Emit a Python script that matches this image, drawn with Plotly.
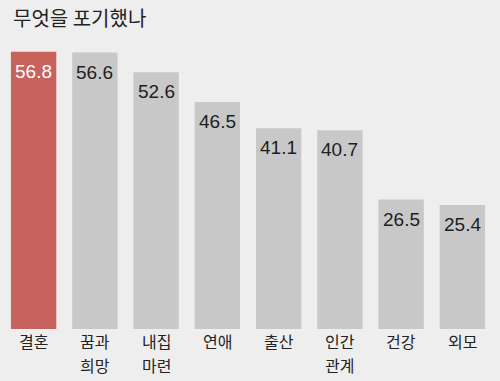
import plotly.graph_objects as go

categories = ["결혼", "꿈과<br>희망", "내집<br>마련", "연애", "출산", "인간<br>관계", "건강", "외모"]
values = [56.8, 56.6, 52.6, 46.5, 41.1, 40.7, 26.5, 25.4]
highlight = "결혼"

RED = "#c7625c"
GRAY = "#c8c8c8"
BG = "#eeeeee"

colors = [RED if c == highlight else GRAY for c in categories]
text_colors = ["#ffffff" if c == highlight else "#1e1e1e" for c in categories]

fig = go.Figure()
fig.add_trace(go.Bar(
    x=categories, y=values,
    marker=dict(color=colors, line=dict(width=0)),
    hoverinfo="skip",
))

for c, v, tc in zip(categories, values, text_colors):
    fig.add_annotation(
        x=c, y=v, text=f"{v:.1f}", showarrow=False,
        yanchor="top", yshift=-7,
        font=dict(family="Liberation Sans, Arial, sans-serif", size=19, color=tc),
    )

# category labels, one annotation per line, anchored on the category axis
for c in categories:
    for i, line in enumerate(c.split("<br>")):
        fig.add_annotation(
            x=c, y=0, text=line, showarrow=False,
            yanchor="middle", yshift=-12 - 23.6 * i,
            font=dict(family="Noto Sans CJK KR", size=16, color="#222222"),
        )

fig.add_annotation(
    x=0, xref="paper", xshift=8, y=1, yref="paper", yshift=35,
    text="무엇을 포기했나", showarrow=False, xanchor="left", yanchor="top",
    font=dict(family="Noto Sans CJK KR", size=20, color="#222222"),
)

fig.update_layout(
    width=500, height=381,
    margin=dict(l=3, r=7, t=36, b=52),
    paper_bgcolor=BG, plot_bgcolor=BG,
    bargap=0.26,
    showlegend=False,
    hovermode=False,
    xaxis=dict(
        showgrid=False, zeroline=False, showline=False, ticks="",
        showticklabels=False, fixedrange=True,
    ),
    yaxis=dict(range=[0, 60], visible=False, fixedrange=True),
)

fig.write_html(
    "out.html",
    config={"displayModeBar": False, "staticPlot": True},
    post_script="document.body.style.margin='0';document.body.style.padding='0';"
                "document.body.style.background='#eeeeee';"
                "document.documentElement.style.overflow='hidden';",
)
